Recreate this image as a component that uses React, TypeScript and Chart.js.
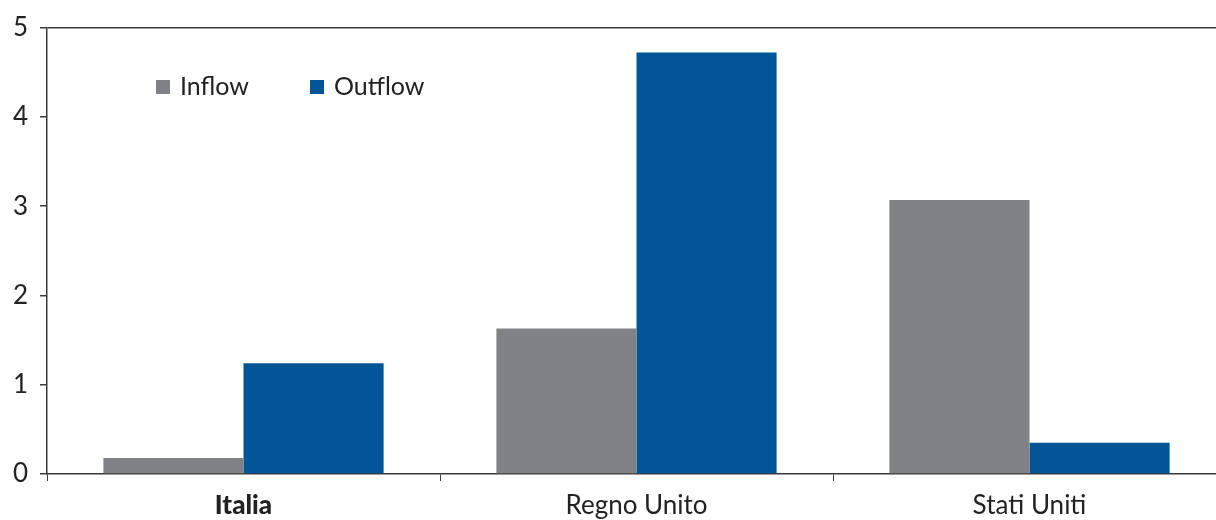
import React, { useEffect, useRef } from "react";
import { Chart, registerables } from "chart.js";

Chart.register(...registerables);

const categories = ["Italia", "Regno Unito", "Stati Uniti"];
const inflow = [0.18, 1.63, 3.07];
const outflow = [1.24, 4.72, 0.35];
const seriesNames = ["Inflow", "Outflow"];
const yTicks = [0, 1, 2, 3, 4, 5];

const GRAY = "#818285";
const BLUE = "#005596";
const AXIS = "#3a3a3a";
const FONT = "Lato, 'DejaVu Sans', sans-serif";

const legendPlugin = {
  id: "inlineLegend",
  afterDraw(chart: any) {
    const ctx = chart.ctx;
    const positions = [156, 310];
    ctx.save();
    ctx.font = `25px ${FONT}`;
    ctx.textBaseline = "middle";
    chart.data.datasets.forEach((ds: any, i: number) => {
      const x = positions[i];
      const y = 87;
      ctx.fillStyle = ds.backgroundColor;
      ctx.fillRect(x, y - 7, 14, 14);
      ctx.fillStyle = "#222";
      ctx.fillText(ds.label, x + 24, y);
    });
    ctx.restore();
  },
};

export default function App() {
  const ref = useRef<HTMLCanvasElement | null>(null);
  useEffect(() => {
    if (!ref.current) return;
    const chart = new Chart(ref.current, {
      type: "bar",
      data: {
        labels: categories,
        datasets: [
          { label: seriesNames[0], data: inflow, backgroundColor: GRAY },
          { label: seriesNames[1], data: outflow, backgroundColor: BLUE },
        ],
      },
      plugins: [legendPlugin],
      options: {
        animation: false,
        responsive: true,
        maintainAspectRatio: false,
        layout: { padding: { top: 27, right: 0, left: 0, bottom: 0 } },
        plugins: { legend: { display: false }, tooltip: { enabled: false } },
        datasets: { bar: { categoryPercentage: 0.713, barPercentage: 1 } },
        scales: {
          x: {
            offset: true,
            grid: {
              offset: true,
              drawOnChartArea: false,
              tickLength: 7,
              color: AXIS,
              lineWidth: 1,
            },
            border: { color: AXIS, width: 1.5 },
            ticks: {
              color: "#222",
              padding: 9,
              font: (c: any) => ({
                family: FONT,
                size: 26,
                weight: c.index === 0 ? "900" : "normal",
              }),
            },
            afterFit: (s: any) => {
              s.height = 46;
            },
          },
          y: {
            min: 0,
            max: 5,
            afterBuildTicks: (s: any) => {
              s.ticks = yTicks.map((v) => ({ value: v }));
            },
            grid: {
              drawOnChartArea: true,
              color: (c: any) =>
                c.tick && c.tick.value === 5 ? AXIS : "rgba(0,0,0,0)",
              lineWidth: 1.5,
              tickLength: 7,
              tickColor: AXIS,
            },
            border: { color: AXIS, width: 1.5 },
            ticks: {
              color: "#222",
              padding: 12,
              font: { family: FONT, size: 26 },
            },
            afterFit: (s: any) => {
              s.width = 47;
            },
          },
        },
      },
    });
    return () => chart.destroy();
  }, []);

  return (
    <div
      style={{
        position: "fixed",
        left: 0,
        top: 0,
        width: 1216,
        height: 520,
        overflow: "hidden",
        background: "#fff",
      }}
    >
      <div style={{ position: "relative", width: 1226, height: 520 }}>
        <canvas ref={ref} />
      </div>
    </div>
  );
}
